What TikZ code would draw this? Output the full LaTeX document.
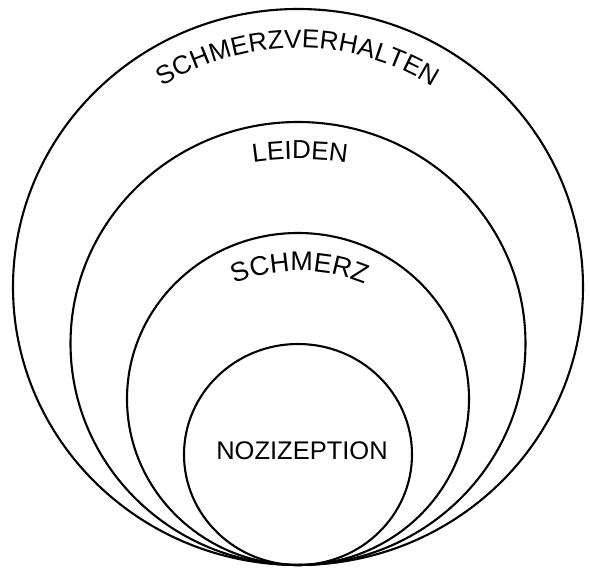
\documentclass[tikz,border=0pt]{standalone}
\usepackage{fontspec}
\setmainfont{Liberation Sans}
\usetikzlibrary{decorations.text}
\newcommand\lblfont{\fontsize{26}{26}\selectfont}
\newcommand\lblfontb{\fontsize{27}{27}\selectfont}
\begin{document}
\begin{tikzpicture}[x=1pt,y=1pt,
  ring/.style={draw=black,line width=2.1pt},
  arclabel/.style={decorate,decoration={text along path,text align=center}}]
\useasboundingbox[fill=white] (0,0) rectangle (590,568);
% nested ellipses, tangent at the bottom
\draw[ring] (298,281) ellipse[x radius=285,y radius=278];
\draw[ring] (298,224.5) ellipse[x radius=227.5,y radius=221.5];
\draw[ring] (298,169) ellipse[x radius=171,y radius=166];
\draw[ring] (298,113.5) ellipse[x radius=114,y radius=110.5];
% curved labels
\path[arclabel,decoration={text={|\lblfont|SCHMERZVERHALTEN}}]
  (298,265) ++(130:255) arc[start angle=130,end angle=50,radius=255];
\path[arclabel,decoration={text={|\lblfont|LEIDEN}}]
  (300,89) ++(115:320) arc[start angle=115,end angle=65,radius=320];
\path[arclabel,decoration={text={|\lblfontb|SCHMERZ}}]
  (300,127) ++(150:170) arc[start angle=150,end angle=30,radius=170];
\node[anchor=base,inner sep=0pt,font=\fontsize{25.5}{25.5}\selectfont] (noz) at (302,108) {NOZIZEPTION};
\end{tikzpicture}
\end{document}
